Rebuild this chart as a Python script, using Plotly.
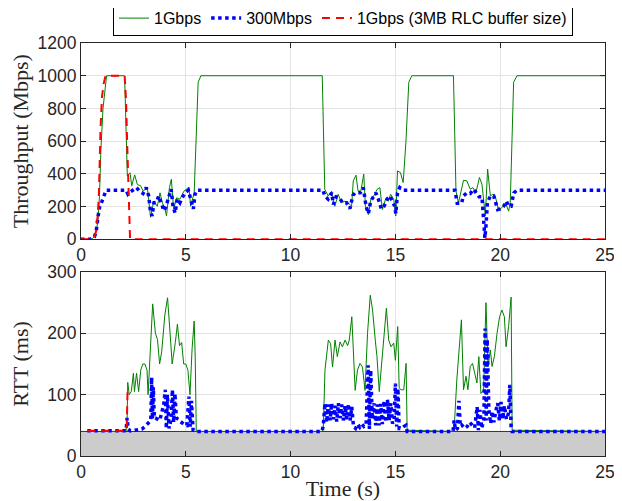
import plotly.graph_objects as go
from plotly.subplots import make_subplots

# ---------------- Throughput (top) ----------------
thr_1g_t = [0, 0.45, 0.55, 0.65, 0.75, 0.82, 0.88, 0.95, 1.05, 1.12, 1.22, 2.08, 2.15, 2.21, 2.34, 2.42,
            2.56, 2.69, 2.84, 2.97, 3.16, 3.32, 3.47, 3.64, 3.77, 3.88, 3.99, 4.08, 4.22, 4.31, 4.42,
            4.56, 4.72, 4.91, 5.15, 5.23, 5.4, 5.59, 5.72,
            11.51, 11.63, 11.79, 11.96, 12.11, 12.27, 12.43, 12.59, 12.75, 12.91, 12.99, 13.12, 13.22,
            13.35, 13.49, 13.57, 13.71, 13.83, 13.97, 14.13, 14.26, 14.38, 14.53, 14.66, 14.77, 14.92,
            15.02, 15.1, 15.24, 15.37, 15.5, 15.64, 15.78,
            17.77, 17.89, 18.01, 18.13, 18.25, 18.41, 18.57, 18.7, 18.84, 19.01, 19.13, 19.29, 19.4,
            19.53, 19.65, 19.76, 19.92, 20.08, 20.25, 20.4, 20.48, 20.64, 20.8, 25]
thr_1g = [0, 0, 5, 20, 60, 140, 260, 550, 800, 900, 1000, 1000, 700, 388, 407, 327,
          394, 334, 328, 294, 320, 135, 233, 202, 284, 223, 193, 143, 316, 367, 183,
          254, 245, 294, 319, 202, 284, 960, 1000,
          1000, 306, 265, 294, 202, 275, 223, 233, 223, 202, 357, 392, 294,
          294, 398, 202, 151, 245, 265, 306, 316, 182, 245, 233, 275, 245,
          143, 418, 408, 347, 592, 960, 1000,
          1000, 294, 223, 284, 361, 357, 306, 316, 284, 378, 337, 143, 429,
          265, 275, 265, 182, 193, 223, 172, 223, 960, 1000, 1000]

thr_300_t = [0, 0.43, 0.64, 0.72, 0.81, 0.89, 0.97, 1.08, 1.2, 2.16, 2.24, 2.36, 2.47, 2.64, 2.8, 2.96,
             3.11, 3.23, 3.31, 3.39, 3.48, 3.6, 3.71, 3.83, 3.96, 4.07, 4.19, 4.3, 4.39, 4.49, 4.59,
             4.72, 4.83, 4.97, 5.12, 5.22, 5.28, 5.36, 5.44, 5.54,
             11.55, 11.63, 11.79, 11.96, 12.04, 12.17, 12.33, 12.48, 12.67, 12.83, 12.97, 13.08, 13.32,
             13.47, 13.6, 13.71, 13.82, 13.94, 14.07, 14.19, 14.33, 14.46, 14.6, 14.73, 14.86, 14.97,
             15.02, 15.1, 15.21, 15.37,
             17.84, 17.89, 17.95, 18.16, 18.24, 18.41, 18.57, 18.73, 18.88, 18.99, 19.13, 19.18, 19.22,
             19.27, 19.32, 19.39, 19.53, 19.69, 19.88, 20.0, 20.16, 20.3, 20.4, 20.52, 20.65, 20.8, 25]
thr_300 = [0, 0, 15, 45, 137, 198, 222, 263, 300, 300, 275, 290, 300, 316, 294, 280,
           316, 265, 174, 143, 223, 226, 265, 220, 174, 208, 265, 306, 202, 161, 245,
           223, 254, 284, 300, 254, 213, 186, 275, 300,
           300, 265, 245, 284, 213, 260, 254, 223, 223, 188, 268, 284, 284,
           316, 202, 157, 233, 254, 284, 245, 186, 202, 245, 265, 233, 202,
           157, 284, 316, 300,
           300, 265, 220, 220, 265, 284, 280, 306, 284, 260, 260, 182, 100,
           8, 80, 223, 265, 265, 182, 186, 202, 233, 202, 202, 284, 300, 300]

thr_3mb_t = [0, 0.55, 0.65, 0.73, 0.8, 0.85, 0.93, 1.0, 1.08, 1.17, 2.08, 2.15, 2.2, 2.25, 2.3, 2.34, 25]
thr_3mb = [0, 0, 15, 57, 150, 260, 670, 870, 950, 1000, 1000, 850, 600, 350, 100, 0, 0]

# ---------------- RTT (bottom) ----------------
rtt_1g_t = [1.12, 2.15, 2.2, 2.23, 2.3, 2.4, 2.5, 2.55, 2.65, 2.75, 2.85, 2.95, 3.05, 3.15, 3.2,
            3.3, 3.42, 3.55, 3.65, 3.75, 3.85, 4.0, 4.13, 4.25, 4.35, 4.5, 4.6, 4.7, 4.8, 4.9,
            5.0, 5.1, 5.2, 5.3, 5.4, 5.45, 5.5,
            11.5, 11.56, 11.64, 11.8, 11.91, 12.0, 12.12, 12.23, 12.36, 12.47, 12.6, 12.72, 12.8,
            12.92, 13.08, 13.19, 13.31, 13.43, 13.55, 13.67, 13.8, 13.91, 14.04, 14.12, 14.23,
            14.36, 14.47, 14.57, 14.68, 14.79, 14.92, 15.0, 15.11, 15.18, 15.27, 15.4, 15.51, 15.56,
            17.75, 17.8, 17.93, 18.05, 18.15, 18.25, 18.37, 18.46, 18.57, 18.68, 18.78, 18.89,
            18.98, 19.08, 19.21, 19.32, 19.42, 19.53, 19.61, 19.72, 19.85, 19.97, 20.08, 20.2,
            20.28, 20.4, 20.52, 20.57, 25]
rtt_1g = [40, 40, 60, 120, 100, 105, 135, 105, 135, 105, 140, 150, 150, 140, 100,
          170, 248, 200, 190, 150, 170, 230, 258, 200, 150, 185, 215, 180, 185, 150,
          150, 140, 100, 175, 220, 160, 40,
          40, 45, 140, 189, 183, 145, 189, 162, 186, 178, 189, 180, 189,
          227, 107, 140, 151, 145, 107, 200, 262, 238, 189, 162, 105,
          162, 211, 241, 189, 178, 184, 156, 211, 111, 108, 108, 151, 42,
          40, 42, 124, 178, 222, 108, 130, 108, 146, 151, 135, 119,
          162, 102, 108, 250, 146, 173, 146, 162, 200, 227, 238, 227,
          178, 211, 259, 42, 40]

rtt_300_t = [0.3, 2.15, 2.2, 2.25, 2.35, 2.5, 2.7, 2.9, 3.05, 3.2, 3.33, 3.37, 3.41, 3.45, 3.5,
             3.55, 3.65, 3.75, 3.85, 3.95, 4.02, 4.07, 4.12, 4.2, 4.3, 4.36, 4.42, 4.48,
             4.55, 4.65, 4.75, 4.9, 5.05, 5.15, 5.21, 5.27, 5.35, 5.45,
             11.5, 11.56, 11.64, 11.72, 11.8, 11.88, 11.96, 12.04, 12.12, 12.2, 12.28, 12.36, 12.44,
             12.52, 12.6, 12.68, 12.76, 12.84, 12.92, 13.0, 13.1, 13.2, 13.3, 13.4, 13.5, 13.6,
             13.7, 13.76, 13.82, 13.9, 13.98, 14.06, 14.14, 14.22, 14.3, 14.38, 14.46, 14.54, 14.62,
             14.7, 14.78, 14.86, 14.94, 15.0, 15.06, 15.12, 15.18, 15.3, 15.4, 15.5, 15.56,
             17.75, 17.8, 17.87, 17.96, 18.03, 18.1, 18.18, 18.3, 18.42, 18.54, 18.66, 18.78, 18.9,
             18.96, 19.03, 19.12, 19.22, 19.28, 19.33, 19.38, 19.46, 19.54, 19.62, 19.7, 19.8,
             19.88, 19.96, 20.04, 20.12, 20.2, 20.3, 20.4, 20.46, 20.52, 20.57, 25]
rtt_300 = [41, 41, 62, 44, 41, 42, 42, 44, 48, 54, 58, 128, 60, 112, 62,
           62, 60, 58, 70, 85, 108, 45, 100, 45, 60, 108, 55, 102,
           62, 60, 56, 52, 50, 97, 48, 90, 42, 40,
           40, 50, 86, 55, 84, 58, 86, 60, 82, 56, 86, 62, 84,
           58, 82, 60, 85, 58, 80, 48, 45, 52, 47, 52, 48, 50,
           148, 44, 140, 60, 86, 50, 84, 50, 85, 52, 90, 55, 92,
           58, 86, 53, 60, 118, 48, 110, 45, 45, 48, 50, 40,
           40, 58, 42, 45, 90, 48, 50, 45, 48, 55, 50, 46, 80,
           42, 75, 45, 60, 208, 58, 190, 75, 53, 73, 55, 75,
           86, 58, 88, 60, 82, 60, 70, 116, 48, 40, 40]

rtt_3mb_t = [0.3, 2.18, 2.22]
rtt_3mb = [41, 41, 105]

base_t = [0, 25]
base_rtt = [40, 40]

x_ticks = [0, 5, 10, 15, 20, 25]
thr_ticks = [0, 200, 400, 600, 800, 1000, 1200]
rtt_ticks = [0, 100, 200, 300]

GREEN = "#008000"
BLUE = "#0000ff"
RED = "#ff0000"
AX = "#262626"
TICKFONT = dict(family="Liberation Sans, Arial, sans-serif", size=17.5, color=AX)
TITLEFONT = dict(family="Liberation Serif, Times New Roman, serif", size=22, color=AX)

fig = make_subplots(rows=2, cols=1)

fig.add_trace(go.Scatter(x=thr_1g_t, y=thr_1g, mode="lines", name="1Gbps",
                         line=dict(color=GREEN, width=1)), row=1, col=1)
fig.add_trace(go.Scatter(x=thr_300_t, y=thr_300, mode="lines", name="300Mbps",
                         line=dict(color=BLUE, width=3.5, dash="dot")), row=1, col=1)
fig.add_trace(go.Scatter(x=thr_3mb_t, y=thr_3mb, mode="lines", name="1Gbps (3MB RLC buffer size)",
                         line=dict(color=RED, width=2, dash="8px,6px")), row=1, col=1)

fig.add_trace(go.Scatter(x=base_t, y=base_rtt, mode="lines", fill="tozeroy", fillcolor="#cccccc",
                         line=dict(color="#333333", width=1), showlegend=False, hoverinfo="skip"),
              row=2, col=1)
fig.add_trace(go.Scatter(x=rtt_1g_t, y=rtt_1g, mode="lines", showlegend=False,
                         line=dict(color=GREEN, width=1)), row=2, col=1)
fig.add_trace(go.Scatter(x=rtt_300_t, y=rtt_300, mode="lines", showlegend=False,
                         line=dict(color=BLUE, width=3.5, dash="dot")), row=2, col=1)
fig.add_trace(go.Scatter(x=rtt_3mb_t, y=rtt_3mb, mode="lines", showlegend=False,
                         line=dict(color=RED, width=2, dash="8px,6px")), row=2, col=1)

axis_common = dict(showline=True, linecolor=AX, linewidth=1, mirror="ticks", ticks="inside",
                   ticklen=5, tickcolor=AX, showgrid=True, gridcolor="#e3e3e3", gridwidth=1,
                   zeroline=False, tickfont=TICKFONT, automargin=False)

fig.update_xaxes(range=[0, 25], tickvals=x_ticks, **axis_common)
fig.update_xaxes(title=dict(text="Time (s)", font=TITLEFONT, standoff=2), row=2, col=1)
fig.update_yaxes(range=[0, 1200], tickvals=thr_ticks, domain=[0.5247, 1.0],
                 title=dict(text="Throughput (Mbps)", font=TITLEFONT), row=1, col=1, **axis_common)
fig.update_yaxes(range=[0, 300], tickvals=rtt_ticks, domain=[0.0, 0.4455],
                 title=dict(text="RTT (ms)", font=TITLEFONT), row=2, col=1, **axis_common)

# page body has an 8px default margin, so the figure is sized to fit the window
fig.update_layout(
    width=614, height=493,
    margin=dict(l=73, r=17, t=35, b=45, autoexpand=False),
    plot_bgcolor="white", paper_bgcolor="white",
    showlegend=True,
    legend=dict(orientation="h", x=0.5, xanchor="center", y=1.06, yanchor="middle",
                bordercolor="#000000", borderwidth=1, bgcolor="white",
                font=dict(family="Liberation Sans, Arial, sans-serif", size=16, color="#000000"),
                itemwidth=30, tracegroupgap=0),
)

fig.write_html("out.html")
